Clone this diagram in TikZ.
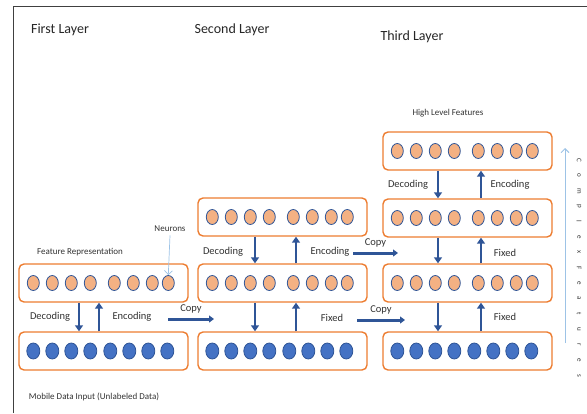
\documentclass[tikz,border=0pt]{standalone}
\usepackage{fontspec}
\setmainfont{Carlito}
\usepackage{tikz}
\usetikzlibrary{arrows.meta, shapes.geometric}

\definecolor{boxorange}{RGB}{237,125,49}
\definecolor{lightorange}{RGB}{244,177,131}
\definecolor{darkblue}{RGB}{47,85,151}
\definecolor{midblue}{RGB}{68,114,196}
\definecolor{paleblue}{RGB}{157,195,230}
\definecolor{textgray}{RGB}{50,50,50}

\tikzset{
    layerbox/.style={draw=boxorange, line width=1.4pt, rounded corners=5pt, fill=white,
        minimum width=169pt, minimum height=38pt, inner sep=0pt},
    hidden/.style={ellipse, draw=darkblue, line width=0.8pt, fill=lightorange,
        minimum width=12pt, minimum height=15pt, inner sep=0pt},
    visible/.style={ellipse, draw=darkblue, line width=0.8pt, fill=midblue,
        minimum width=13pt, minimum height=16pt, inner sep=0pt},
    flow/.style={darkblue, line width=2.6pt, -{Triangle[length=6pt, width=8pt]}},
    copyflow/.style={darkblue, line width=3pt, -{Triangle[length=5pt, width=7pt]}},
    lbl/.style={textgray, font=\fontsize{10.5}{12}\selectfont},
    small/.style={textgray, font=\fontsize{9}{11}\selectfont},
    title/.style={black!85, font=\fontsize{14}{16}\selectfont}
}

% rows of neurons inside a box
\newcommand{\hiddenrow}[1]{%
    \foreach \dx [count=\k] in {15,34,53,72,96,115,134,150}
        \node[hidden] (#1-\k) at ([xshift=\dx pt]#1.west) {};}
\newcommand{\visiblerow}[1]{%
    \foreach \dx [count=\k] in {15,34,53,72,92,111,130,149}
        \node[visible] (#1-\k) at ([xshift=\dx pt]#1.west) {};}

\begin{document}
\begin{tikzpicture}[x=1pt, y=-1pt]

    \useasboundingbox (0,0) rectangle (587,413);

    % frame
    \draw[black!75, line width=0.8pt] (13,413) -- (13,6) -- (587,6);

    % ==========================================
    % titles
    % ==========================================
    \node[title] (t1) at (60,30) {First Layer};
    \node[title] (t2) at (232,30) {Second Layer};
    \node[title] (t3) at (412,37) {Third Layer};

    % ==========================================
    % First layer
    % ==========================================
    \node[layerbox] (a2) at (103.5,283) {};
    \node[layerbox] (a1) at (103.5,351) {};
    \hiddenrow{a2}
    \visiblerow{a1}

    \coordinate (adown) at (79,0);
    \coordinate (aup) at (99,0);
    \draw[flow] (a2.south -| adown) -- (a1.north -| adown);
    \draw[flow] (a1.north -| aup) -- (a2.south -| aup);
    \node[lbl] (adec) at (50,317) {Decoding};
    \node[lbl] (aenc) at (132,317) {Encoding};

    \node[small] (feat) at (80,252) {Feature Representation};
    \node[small] (neur) at (170,229) {Neurons};
    \draw[paleblue, line width=0.7pt, -{Straight Barb[length=4pt]}] (neur.south) -- (a2-8.north);

    \node[small] (input) at (94,397) {Mobile Data Input (Unlabeled Data)};

    % copy to second layer
    \coordinate (c1s) at (168,319);
    \coordinate (c1e) at (214,319);
    \draw[copyflow] (c1s) -- (c1e) node[midway, above=1pt, lbl] {Copy};

    % ==========================================
    % Second layer
    % ==========================================
    \node[layerbox] (b3) at (282.5,217) {};
    \node[layerbox] (b2) at (282.5,283) {};
    \node[layerbox] (b1) at (282.5,351) {};
    \hiddenrow{b3}
    \hiddenrow{b2}
    \visiblerow{b1}

    \coordinate (bdown) at (255,0);
    \coordinate (bup) at (296,0);
    \draw[flow] (b3.south -| bdown) -- (b2.north -| bdown);
    \draw[flow] (b2.north -| bup) -- (b3.south -| bup);
    \draw[flow] (b2.south -| bdown) -- (b1.north -| bdown);
    \draw[flow] (b1.north -| bup) -- (b2.south -| bup);
    \node[lbl] (bdec) at (223,252) {Decoding};
    \node[lbl] (benc) at (330,252) {Encoding};
    \node[lbl] (bfix) at (332,318) {Fixed};

    % copies to third layer
    \coordinate (c2s) at (353,253);
    \coordinate (c2e) at (398,253);
    \draw[copyflow] (c2s) -- (c2e) node[midway, above=1pt, lbl] {Copy};
    \coordinate (c3s) at (357,320);
    \coordinate (c3e) at (405,320);
    \draw[copyflow] (c3s) -- (c3e) node[midway, above=1pt, lbl] {Copy};

    % ==========================================
    % Third layer
    % ==========================================
    \node[layerbox] (c4) at (467.5,151) {};
    \node[layerbox] (c3) at (467.5,218) {};
    \node[layerbox] (c2) at (467.5,283) {};
    \node[layerbox] (c1) at (467.5,351) {};
    \hiddenrow{c4}
    \hiddenrow{c3}
    \hiddenrow{c2}
    \visiblerow{c1}

    \coordinate (cdown) at (438,0);
    \coordinate (cup) at (481,0);
    \foreach \hi/\lo in {c4/c3, c3/c2, c2/c1} {
        \draw[flow] (\hi.south -| cdown) -- (\lo.north -| cdown);
        \draw[flow] (\lo.north -| cup) -- (\hi.south -| cup);
    }
    \node[lbl] (cdec) at (408,185) {Decoding};
    \node[lbl] (cenc) at (510,185) {Encoding};
    \node[lbl] (cfix2) at (505,253) {Fixed};
    \node[lbl] (cfix1) at (505,317) {Fixed};
    \node[small] (high) at (448,113) {High Level Features};

    % complex features arrow
    \coordinate (cxs) at (565,343);
    \coordinate (cxe) at (565,148);
    \draw[paleblue, line width=0.9pt, -{Straight Barb[length=4pt]}] (cxs) -- (cxe);
    \foreach \ch [count=\i from 0] in {C,o,m,p,l,e,x,F,e,a,t,u,r,e,s}
        \node[textgray, rotate=-90, font=\fontsize{7}{8}\selectfont] (cx\i) at (579,160+15.4*\i) {\ch};

\end{tikzpicture}
\end{document}
